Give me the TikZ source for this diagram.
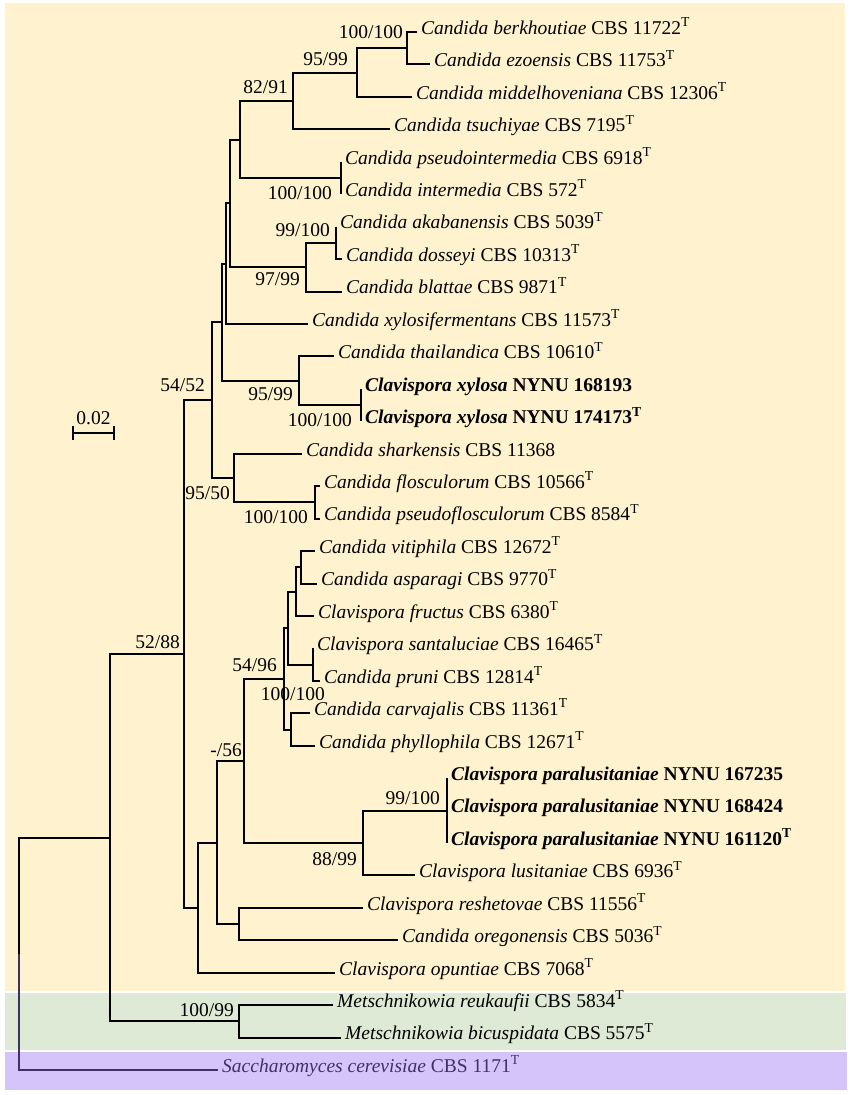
\documentclass[tikz,border=0pt]{standalone}
\usepackage{fontspec}
\setmainfont{Liberation Serif}
\usetikzlibrary{arrows.meta}
\definecolor{bgyel}{RGB}{255,242,206}
\definecolor{bggrn}{RGB}{222,234,213}
\definecolor{bgpur}{RGB}{212,196,250}
\definecolor{outcol}{RGB}{62,50,100}
\begin{document}
\begin{tikzpicture}[x=1pt, y=-1pt,
    branch/.style={line width=2pt},
    taxon/.style={anchor=mid west, inner xsep=4pt, inner ysep=1pt, font=\fontsize{19.5}{22}\selectfont},
    newsp/.style={taxon, font=\fontsize{19.5}{22}\selectfont\bfseries},
    outgr/.style={taxon, text=outcol},
    supp/.style={anchor=east, inner sep=0pt, font=\fontsize{19.5}{22}\selectfont}]
      \useasboundingbox (0,0) rectangle (851,1095);
      \fill [bgyel] (5,3) rectangle (845,991);
      \fill [bggrn] (5,993) rectangle (846,1050);
      \fill [bgpur] (5,1052) rectangle (847,1090);

      \node [taxon] (berk) at (417,32.0)   {\textit{Candida berkhoutiae} CBS 11722\textsuperscript{T}};
      \node [taxon] (ezoe) at (430,64.4)   {\textit{Candida ezoensis} CBS 11753\textsuperscript{T}};
      \node [taxon] (midd) at (412,96.9)   {\textit{Candida middelhoveniana} CBS 12306\textsuperscript{T}};
      \node [taxon] (tsuc) at (390,129.3)  {\textit{Candida tsuchiyae} CBS 7195\textsuperscript{T}};
      \node [taxon] (psin) at (341,161.8)  {\textit{Candida pseudointermedia} CBS 6918\textsuperscript{T}};
      \node [taxon] (inte) at (341,194.2)  {\textit{Candida intermedia} CBS 572\textsuperscript{T}};
      \node [taxon] (akab) at (336,226.6)  {\textit{Candida akabanensis} CBS 5039\textsuperscript{T}};
      \node [taxon] (doss) at (342,259.1)  {\textit{Candida dosseyi} CBS 10313\textsuperscript{T}};
      \node [taxon] (blat) at (342,291.5)  {\textit{Candida blattae} CBS 9871\textsuperscript{T}};
      \node [taxon] (xyfe) at (308,324.0)  {\textit{Candida xylosifermentans} CBS 11573\textsuperscript{T}};
      \node [taxon] (thai) at (334,356.4)  {\textit{Candida thailandica} CBS 10610\textsuperscript{T}};
      \node [newsp] (xyl1) at (361,388.8)  {\textit{Clavispora xylosa} NYNU 168193};
      \node [newsp] (xyl2) at (361,421.3)  {\textit{Clavispora xylosa} NYNU 174173\textsuperscript{T}};
      \node [taxon] (shar) at (302,453.7)  {\textit{Candida sharkensis} CBS 11368};
      \node [taxon] (flos) at (320,486.2)  {\textit{Candida flosculorum} CBS 10566\textsuperscript{T}};
      \node [taxon] (psfl) at (320,518.6)  {\textit{Candida pseudoflosculorum} CBS 8584\textsuperscript{T}};
      \node [taxon] (viti) at (315,551.0)  {\textit{Candida vitiphila} CBS 12672\textsuperscript{T}};
      \node [taxon] (aspa) at (317,583.5)  {\textit{Candida asparagi} CBS 9770\textsuperscript{T}};
      \node [taxon] (fruc) at (314,615.9)  {\textit{Clavispora fructus} CBS 6380\textsuperscript{T}};
      \node [taxon] (sant) at (313,648.4)  {\textit{Clavispora santaluciae} CBS 16465\textsuperscript{T}};
      \node [taxon] (prun) at (320,680.8)  {\textit{Candida pruni} CBS 12814\textsuperscript{T}};
      \node [taxon] (carv) at (310,713.2)  {\textit{Candida carvajalis} CBS 11361\textsuperscript{T}};
      \node [taxon] (phyl) at (315,745.7)  {\textit{Candida phyllophila} CBS 12671\textsuperscript{T}};
      \node [newsp] (par1) at (447,778.1)  {\textit{Clavispora paralusitaniae} NYNU 167235};
      \node [newsp] (par2) at (447,810.6)  {\textit{Clavispora paralusitaniae} NYNU 168424};
      \node [newsp] (par3) at (447,843.0)  {\textit{Clavispora paralusitaniae} NYNU 161120\textsuperscript{T}};
      \node [taxon] (lusi) at (415,875.4)  {\textit{Clavispora lusitaniae} CBS 6936\textsuperscript{T}};
      \node [taxon] (resh) at (363,907.9)  {\textit{Clavispora reshetovae} CBS 11556\textsuperscript{T}};
      \node [taxon] (oreg) at (398,940.3)  {\textit{Candida oregonensis} CBS 5036\textsuperscript{T}};
      \node [taxon] (opun) at (335,972.8)  {\textit{Clavispora opuntiae} CBS 7068\textsuperscript{T}};
      \node [taxon] (reuk) at (333,1005.2) {\textit{Metschnikowia reukaufii} CBS 5834\textsuperscript{T}};
      \node [taxon] (bicu) at (341,1037.6) {\textit{Metschnikowia bicuspidata} CBS 5575\textsuperscript{T}};
      \node [outgr] (cere) at (218,1070.1) {\textit{Saccharomyces cerevisiae} CBS 1171\textsuperscript{T}};

      \coordinate (bkez) at (407,48.2);
      \coordinate (bkmd) at (357,72.55);
      \coordinate (bkts) at (293,100.9);
      \coordinate (psit) at (341,178.0);
      \coordinate (clA)  at (240,139.5);
      \coordinate (akdo) at (336,242.85);
      \coordinate (akbl) at (306,267.2);
      \coordinate (clAB) at (230,203.3);
      \coordinate (clXf) at (226,263.7);
      \coordinate (xyxy) at (361,405.0);
      \coordinate (thxy) at (299,380.7);
      \coordinate (clTh) at (222,322.2);
      \coordinate (flps) at (315,502.4);
      \coordinate (shfl) at (234,478.0);
      \coordinate (upcl) at (212,400.1);
      \coordinate (vias) at (301,567.2);
      \coordinate (vifr) at (296,591.6);
      \coordinate (sapr) at (313,664.6);
      \coordinate (visa) at (288,628.1);
      \coordinate (caph) at (291,729.5);
      \coordinate (vica) at (284,678.8);
      \coordinate (para) at (447,810.6);
      \coordinate (palu) at (363,843.0);
      \coordinate (vipa) at (244,760.9);
      \coordinate (reor) at (239,924.1);
      \coordinate (vire) at (217,842.5);
      \coordinate (loop) at (198,907.6);
      \coordinate (ingr) at (184,653.9);
      \coordinate (mets) at (239,1021.4);
      \coordinate (inme) at (110,837.6);
      \coordinate (root) at (19,953.9);

      \draw [branch] (bkez) |- (berk.mid west);
      \draw [branch] (bkez) |- (ezoe.mid west);
      \draw [branch] (bkmd) |- (bkez);
      \draw [branch] (bkmd) |- (midd.mid west);
      \draw [branch] (bkts) |- (bkmd);
      \draw [branch] (bkts) |- (tsuc.mid west);
      \draw [branch] (psit) |- (psin.mid west);
      \draw [branch] (psit) |- (inte.mid west);
      \draw [branch] (clA)  |- (bkts);
      \draw [branch] (clA)  |- (psit);
      \draw [branch] (akdo) |- (akab.mid west);
      \draw [branch] (akdo) |- (doss.mid west);
      \draw [branch] (akbl) |- (akdo);
      \draw [branch] (akbl) |- (blat.mid west);
      \draw [branch] (clAB) |- (clA);
      \draw [branch] (clAB) |- (akbl);
      \draw [branch] (clXf) |- (clAB);
      \draw [branch] (clXf) |- (xyfe.mid west);
      \draw [branch] (xyxy) |- (xyl1.mid west);
      \draw [branch] (xyxy) |- (xyl2.mid west);
      \draw [branch] (thxy) |- (thai.mid west);
      \draw [branch] (thxy) |- (xyxy);
      \draw [branch] (clTh) |- (clXf);
      \draw [branch] (clTh) |- (thxy);
      \draw [branch] (flps) |- (flos.mid west);
      \draw [branch] (flps) |- (psfl.mid west);
      \draw [branch] (shfl) |- (shar.mid west);
      \draw [branch] (shfl) |- (flps);
      \draw [branch] (upcl) |- (clTh);
      \draw [branch] (upcl) |- (shfl);
      \draw [branch] (vias) |- (viti.mid west);
      \draw [branch] (vias) |- (aspa.mid west);
      \draw [branch] (vifr) |- (vias);
      \draw [branch] (vifr) |- (fruc.mid west);
      \draw [branch] (sapr) |- (sant.mid west);
      \draw [branch] (sapr) |- (prun.mid west);
      \draw [branch] (visa) |- (vifr);
      \draw [branch] (visa) |- (sapr);
      \draw [branch] (caph) |- (carv.mid west);
      \draw [branch] (caph) |- (phyl.mid west);
      \draw [branch] (vica) |- (visa);
      \draw [branch] (vica) |- (caph);
      \draw [branch] (para) |- (par1.mid west);
      \draw [branch] (para) |- (par2.mid west);
      \draw [branch] (para) |- (par3.mid west);
      \draw [branch] (palu) |- (para);
      \draw [branch] (palu) |- (lusi.mid west);
      \draw [branch] (vipa) |- (vica);
      \draw [branch] (vipa) |- (palu);
      \draw [branch] (reor) |- (resh.mid west);
      \draw [branch] (reor) |- (oreg.mid west);
      \draw [branch] (vire) |- (vipa);
      \draw [branch] (vire) |- (reor);
      \draw [branch] (loop) |- (vire);
      \draw [branch] (loop) |- (opun.mid west);
      \draw [branch] (ingr) |- (upcl);
      \draw [branch] (ingr) |- (loop);
      \draw [branch] (mets) |- (reuk.mid west);
      \draw [branch] (mets) |- (bicu.mid west);
      \draw [branch] (inme) |- (ingr);
      \draw [branch] (inme) |- (mets);
      \draw [branch] (root) |- (inme);
      \draw [branch, outcol] (root) |- (cere.mid west);

      \node [supp] (s1) at (403,32)   {100/100};
      \node [supp] (s2) at (348,59)   {95/99};
      \node [supp] (s3) at (288,87)   {82/91};
      \node [supp] (s4) at (332,193)  {100/100};
      \node [supp] (s5) at (330,230)  {99/100};
      \node [supp] (s6) at (300,279)  {97/99};
      \node [supp] (s7) at (205,385)  {54/52};
      \node [supp] (s8) at (293,394)  {95/99};
      \node [supp] (s9) at (352,420)  {100/100};
      \node [supp] (s10) at (230,493) {95/50};
      \node [supp] (s11) at (308,517) {100/100};
      \node [supp] (s12) at (180,642) {52/88};
      \node [supp] (s13) at (277,665) {54/96};
      \node [supp] (s14) at (325,694) {100/100};
      \node [supp] (s15) at (242,750) {-/56};
      \node [supp] (s16) at (440,798) {99/100};
      \node [supp] (s17) at (357,859) {88/99};
      \node [supp] (s18) at (234,1010) {100/99};

      \coordinate (sbl) at (72,433);
      \coordinate (sbr) at (115,433);
      \draw [branch, {Bar[width=14pt]}-{Bar[width=14pt]}] (sbl) -- (sbr);
      \node [supp, anchor=center] (sblab) at (93.5,418) {0.02};
\end{tikzpicture}
\end{document}
